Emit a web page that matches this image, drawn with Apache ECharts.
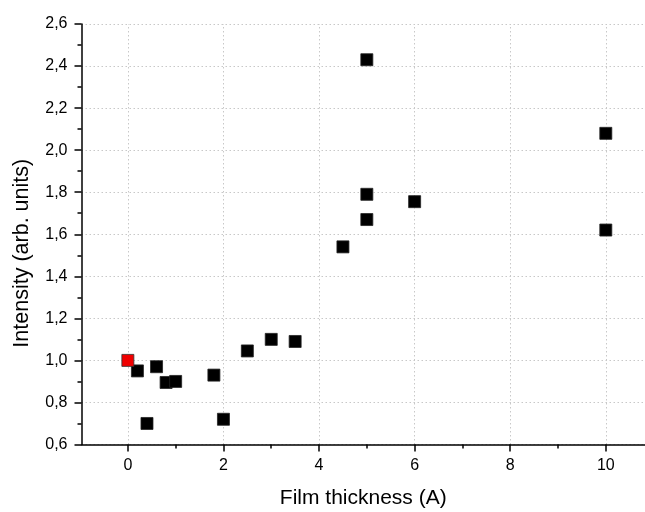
<!DOCTYPE html>
<html><head><meta charset="utf-8">
<script src="https://cdn.jsdelivr.net/npm/echarts@6/dist/echarts.min.js"></script>
<style>html,body{margin:0;padding:0;background:#fff}#c{width:645px;height:512px}</style>
</head><body><div id="c"></div>
<script>
const thickness = [0.2, 0.4, 0.6, 0.8, 1.0, 1.8, 2.0, 2.5, 3.0, 3.5, 4.5, 5.0, 5.0, 5.0, 6.0, 10.0, 10.0];
const intensity = [0.95, 0.70, 0.97, 0.895, 0.90, 0.93, 0.72, 1.045, 1.10, 1.09, 1.54, 2.43, 1.79, 1.67, 1.755, 2.08, 1.62];
const refThickness = [0];
const refIntensity = [1.0];
const xTicks = [0, 2, 4, 6, 8, 10];
const xMinorTicks = [-1, 1, 3, 5, 7, 9];

const font = 'Liberation Sans, Arial, sans-serif';
const grid = {color: '#c8c8c8', type: [1.5, 2.5], width: 1};
const chart = echarts.init(document.getElementById('c'));
chart.setOption({
  animation: false,
  grid: {left: 81.5, right: 0, top: 24, bottom: 67.5, outerBoundsMode: 'none', containLabel: false},
  xAxis: [{
    type: 'value', min: -0.97, max: 10.82,
    name: 'Film thickness (A)', nameLocation: 'middle', nameGap: 43,
    nameTextStyle: {fontFamily: font, fontSize: 21, color: '#000'},
    axisLine: {onZero: false, lineStyle: {color: '#000', width: 1.5}},
    axisTick: {show: true, inside: false, length: 7, customValues: xTicks, lineStyle: {color: '#000', width: 1.5}},
    axisLabel: {fontFamily: font, fontSize: 16, color: '#000', margin: 13, customValues: xTicks},
    splitLine: {show: false}
  }, {
    type: 'value', min: -0.97, max: 10.82, position: 'bottom',
    axisLine: {show: false, onZero: false}, axisLabel: {show: false},
    axisTick: {show: true, inside: false, length: 4, customValues: xMinorTicks, lineStyle: {color: '#000', width: 1.5}},
    splitLine: {show: false}
  }],
  yAxis: {
    type: 'value', min: 0.6, max: 2.6, interval: 0.2,
    name: 'Intensity (arb. units)', nameLocation: 'middle', nameGap: 48,
    nameTextStyle: {fontFamily: font, fontSize: 21.5, color: '#000', padding: [0, 38, 0, 0]},
    axisLine: {show: true, onZero: false, lineStyle: {color: '#000', width: 1.5}},
    axisTick: {show: true, inside: false, length: 7, lineStyle: {color: '#000', width: 1.5}},
    minorTick: {show: true, splitNumber: 2, length: 4, lineStyle: {color: '#000', width: 1.5}},
    axisLabel: {fontFamily: font, fontSize: 16, color: '#000', margin: 14,
      formatter: v => v.toFixed(1).replace('.', ',')},
    splitLine: {show: true, lineStyle: grid}
  },
  series: [
    {type: 'line', data: [], z: 0, silent: true,
     markLine: {silent: true, symbol: 'none', label: {show: false}, lineStyle: grid, z: 0,
       data: xTicks.map(v => ({xAxis: v}))}},
    {type: 'scatter', symbol: 'rect', symbolSize: 12, z: 5,
     itemStyle: {color: '#000', borderColor: '#222', borderWidth: 0.8, opacity: 1},
     data: thickness.map((x, i) => [x, intensity[i]])},
    {type: 'scatter', symbol: 'rect', symbolSize: 12, z: 5,
     itemStyle: {color: '#f00000', borderColor: '#333', borderWidth: 0.8, opacity: 1},
     data: refThickness.map((x, i) => [x, refIntensity[i]])}
  ]
});
</script></body></html>
